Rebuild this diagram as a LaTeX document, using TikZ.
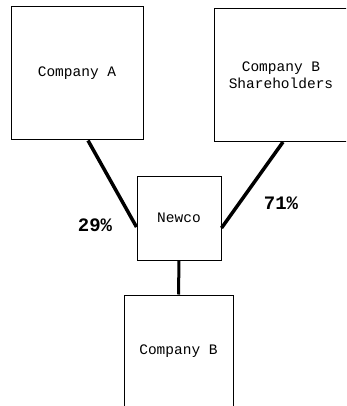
\documentclass[tikz,border=0pt]{standalone}
\usepackage{fontspec}
\newfontfamily\typew{Liberation Mono}
\usepackage{tikz}

\begin{document}
\begin{tikzpicture}[x=1pt, y=-1pt, font=\typew\fontsize{14.5}{17}\selectfont]
	\useasboundingbox (0, 0) rectangle (346, 406);
	\clip (0, 0) rectangle (346, 406);
	\tikzset{firm/.style={draw, line width=1pt, inner sep=0pt, align=center}}
	\node [firm, minimum width=132pt, minimum height=133pt] (compa) at (77, 73.5) {Company A};
	\node [firm, minimum width=134pt, minimum height=133pt] (holders) at (281, 75) {Company B\\Shareholders};
	\node [firm, minimum width=84pt, minimum height=84pt] (newco) at (179, 218) {Newco};
	\node [firm, minimum width=109pt, minimum height=112pt] (compb) at (178.5, 351) {Company B};
	\draw [line width=3.5pt] ([xshift=11pt]compa.south) -- ([yshift=-9pt]newco.west);
	\draw [line width=3.5pt] ([xshift=2pt]holders.south) -- ([yshift=-10pt]newco.east);
	\draw [line width=3pt] (newco.south) -- (compb.north);
	\node [font=\typew\bfseries\fontsize{19}{22}\selectfont] (share-a) at (95, 225) {29\%};
	\node [font=\typew\bfseries\fontsize{19}{22}\selectfont] (share-b) at (281, 203) {71\%};
\end{tikzpicture}
\end{document}
